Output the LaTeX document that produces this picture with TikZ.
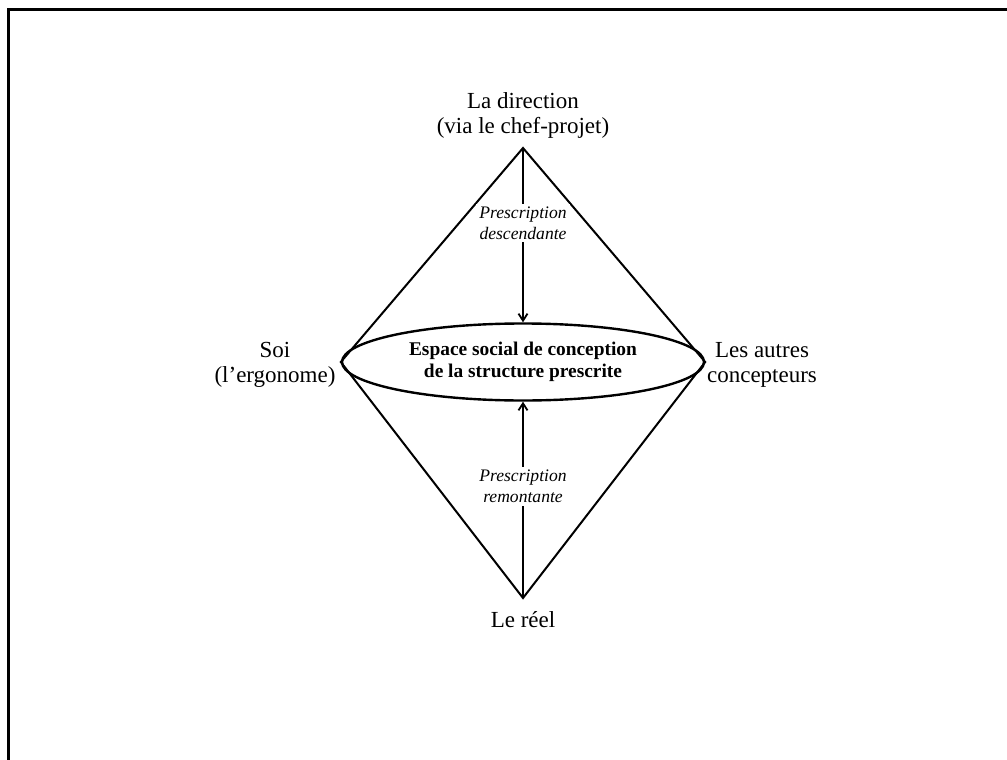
\documentclass[tikz,border=0pt]{standalone}
\usepackage{fontspec}
\setmainfont{Liberation Serif}
\usetikzlibrary{shapes.geometric,arrows.meta}
\begin{document}
\begin{tikzpicture}[x=1pt, y=-1pt, font=\fontsize{23}{25}\selectfont,
  lbl/.style={align=center},
  presc/.style={align=center, fill=white, inner sep=3pt, font=\fontsize{17.6}{21}\selectfont\itshape},
  fl/.style={line width=2.2pt, -{Straight Barb[length=7pt,width=9pt,line width=1.8pt]}}]
\useasboundingbox (0,0) rectangle (1007,760);
\draw[line width=3pt] (8,760) -- (8,10) -- (1007,10);
\coordinate (haut) at (523,148);
\coordinate (bas) at (523,598);
\node[draw, ellipse, line width=2.4pt, minimum width=362, minimum height=77, inner sep=0pt,
  font=\fontsize{19.4}{22}\selectfont\bfseries, align=center] (espace) at (523,362)
  {Espace social de conception\\de la structure prescrite};
\draw[line width=2pt, line join=miter] (haut) -- (espace.west) -- (bas) -- (espace.east) -- cycle;
\draw[fl] (haut) -- (espace.north) node[presc, pos=.43] {Prescription\\descendante};
\draw[fl] (bas) -- (espace.south) node[presc, pos=.57] {Prescription\\remontante};
\node[lbl] (dir) at (523,115) {La direction\\(via le chef-projet)};
\node[lbl] (soi) at (275,365) {Soi\\(l’ergonome)};
\node[lbl] (autres) at (762,365) {Les autres\\concepteurs};
\node[lbl] (reel) at (523,620) {Le réel};
\end{tikzpicture}
\end{document}
